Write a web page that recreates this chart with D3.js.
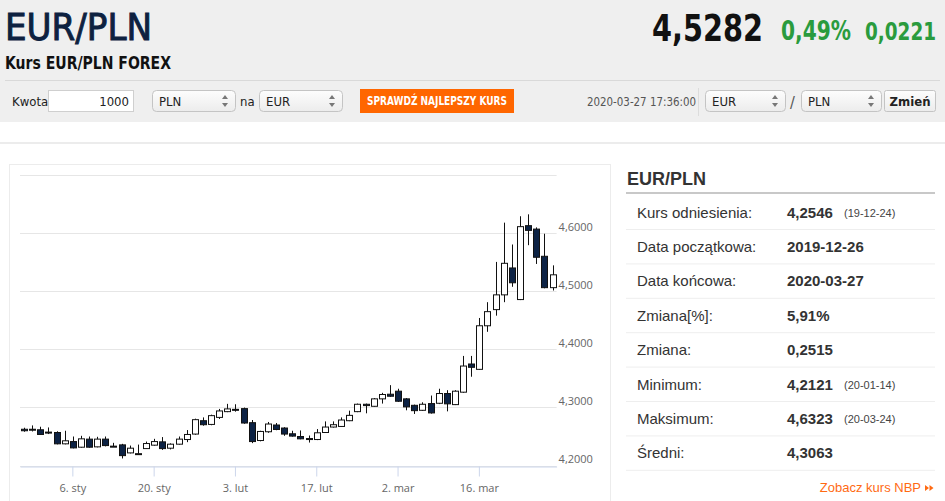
<!DOCTYPE html>
<html lang="pl">
<head>
<meta charset="utf-8">
<title>EUR/PLN</title>
<script src="https://d3js.org/d3.v7.min.js"></script>
<style>
  body { margin: 0; background: #fff; }
  svg { display: block; }
  .cond { font-family: "Liberation Sans Narrow", "DejaVu Sans Condensed", "Liberation Sans", sans-serif; }
  .sans { font-family: "Liberation Sans", Arial, sans-serif; }
  .axis text { font-family: "Open Sans", "DejaVu Sans", sans-serif; font-size: 11px; fill: #666; }
</style>
</head>
<body>
<script>
// trading days (ordinal x axis)
const dates = [
  "2019-12-26","2019-12-27","2019-12-30","2019-12-31","2020-01-02","2020-01-03",
  "2020-01-06","2020-01-07","2020-01-08","2020-01-09","2020-01-10",
  "2020-01-13","2020-01-14","2020-01-15","2020-01-16","2020-01-17",
  "2020-01-20","2020-01-21","2020-01-22","2020-01-23","2020-01-24",
  "2020-01-27","2020-01-28","2020-01-29","2020-01-30","2020-01-31",
  "2020-02-03","2020-02-04","2020-02-05","2020-02-06","2020-02-07",
  "2020-02-10","2020-02-11","2020-02-12","2020-02-13","2020-02-14",
  "2020-02-17","2020-02-18","2020-02-19","2020-02-20","2020-02-21",
  "2020-02-24","2020-02-25","2020-02-26","2020-02-27","2020-02-28",
  "2020-03-02","2020-03-03","2020-03-04","2020-03-05","2020-03-06",
  "2020-03-09","2020-03-10","2020-03-11","2020-03-12","2020-03-13",
  "2020-03-16","2020-03-17","2020-03-18","2020-03-19","2020-03-20",
  "2020-03-23","2020-03-24","2020-03-25","2020-03-26","2020-03-27"
];
const open = [
  4.2624,4.2615,4.2615,4.2575,4.2568,4.2373,4.2412,4.2315,4.2454,4.2321,4.2454,
  4.2333,4.2355,4.2217,4.2187,4.2291,4.2350,4.2407,4.2298,4.2367,4.2447,
  4.2541,4.2771,4.2707,4.2828,4.2927,4.2967,4.2979,4.2737,4.2430,4.2581,
  4.2697,4.2645,4.2546,4.2499,4.2464,4.2447,4.2568,4.2662,4.2672,4.2771,
  4.2927,4.3054,4.3019,4.3147,4.3227,4.3279,4.3147,4.3036,4.2950,4.3066,
  4.3071,4.3239,4.3048,4.3262,4.3747,4.3655,4.4405,4.4683,4.4937,4.5400,
  4.4856,4.6128,4.6069,4.5601,4.5061
];
const high = [
  4.2650,4.2690,4.2667,4.2655,4.2589,4.2598,4.2499,4.2511,4.2499,4.2494,4.2499,
  4.2390,4.2373,4.2343,4.2360,4.2412,4.2459,4.2489,4.2381,4.2499,4.2610,
  4.2806,4.2828,4.2875,4.2974,4.3061,4.3054,4.2997,4.2783,4.2598,4.2749,
  4.2731,4.2659,4.2598,4.2603,4.2516,4.2627,4.2759,4.2759,4.2828,4.2944,
  4.3066,4.3066,4.3161,4.3251,4.3383,4.3321,4.3161,4.3048,4.3088,4.3204,
  4.3321,4.3296,4.3296,4.3886,4.3886,4.4539,4.4811,4.5504,4.6180,4.5804,
  4.6290,4.6323,4.6098,4.5989,4.5445
];
const low = [
  4.2581,4.2586,4.2529,4.2541,4.2364,4.2364,4.2295,4.2307,4.2307,4.2312,4.2329,
  4.2321,4.2121,4.2208,4.2182,4.2286,4.2341,4.2269,4.2277,4.2359,4.2402,
  4.2529,4.2685,4.2693,4.2801,4.2918,4.2927,4.2719,4.2385,4.2416,4.2563,
  4.2607,4.2511,4.2497,4.2451,4.2395,4.2437,4.2560,4.2653,4.2664,4.2763,
  4.2918,4.2898,4.3014,4.3066,4.3182,4.3095,4.2950,4.2887,4.2939,4.2893,
  4.3057,4.2932,4.3040,4.3251,4.3528,4.3646,4.4301,4.4579,4.4811,4.5076,
  4.4847,4.5792,4.5469,4.5050,4.5012
];
const close = [
  4.2598,4.2624,4.2534,4.2558,4.2373,4.2425,4.2303,4.2459,4.2315,4.2454,4.2343,
  4.2325,4.2170,4.2298,4.2204,4.2378,4.2412,4.2291,4.2367,4.2454,4.2534,
  4.2789,4.2702,4.2858,4.2939,4.2974,4.2950,4.2731,4.2412,4.2586,4.2714,
  4.2620,4.2541,4.2506,4.2459,4.2447,4.2563,4.2662,4.2702,4.2783,4.2863,
  4.3054,4.3031,4.3147,4.3222,4.3192,4.3106,4.3009,4.2944,4.3054,4.2905,
  4.3239,4.3061,4.3279,4.3712,4.3690,4.4405,4.4648,4.4937,4.5480,4.5145,
  4.6111,4.6047,4.5584,4.5061,4.5282
];
const tickDates = ["2020-01-06","2020-01-20","2020-02-03","2020-02-17","2020-03-02","2020-03-16"];
const tickLabels = ["6. sty","20. sty","3. lut","17. lut","2. mar","16. mar"];
const yTicks = [4.2, 4.3, 4.4, 4.5, 4.6, 4.7];

const statLabels = ["Kurs odniesienia:","Data początkowa:","Data końcowa:","Zmiana[%]:","Zmiana:","Minimum:","Maksimum:","Średni:"];
const statValues = ["4,2546","2019-12-26","2020-03-27","5,91%","0,2515","4,2121","4,6323","4,3063"];
const statNotes  = ["(19-12-24)","","","","","(20-01-14)","(20-03-24)",""];

const W = 945, H = 501;
const svg = d3.select("body").append("svg").attr("width", W).attr("height", H);

const defs = svg.append("defs");
const grad = defs.append("linearGradient").attr("id", "sel").attr("x1", 0).attr("y1", 0).attr("x2", 0).attr("y2", 1);
grad.append("stop").attr("offset", "0%").attr("stop-color", "#fdfdfd");
grad.append("stop").attr("offset", "100%").attr("stop-color", "#ececec");

// ---- header ----
svg.append("rect").attr("x", 0).attr("y", 0).attr("width", W).attr("height", 122).attr("fill", "#efefef");
svg.append("text").attr("class", "cond").attr("x", 5).attr("y", 40)
  .attr("font-size", 37).attr("fill", "#0d2140").attr("stroke", "#0d2140").attr("stroke-width", 0.9)
  .attr("textLength", 147).attr("lengthAdjust", "spacingAndGlyphs").text("EUR/PLN");
svg.append("text").attr("class", "cond").attr("x", 5).attr("y", 69)
  .attr("font-size", 17).attr("font-weight", "bold").attr("fill", "#111")
  .attr("textLength", 166).attr("lengthAdjust", "spacingAndGlyphs").text("Kurs EUR/PLN FOREX");

svg.append("text").attr("class", "cond").attr("x", 652).attr("y", 41)
  .attr("font-size", 38).attr("font-weight", "bold").attr("fill", "#111")
  .attr("textLength", 111).attr("lengthAdjust", "spacingAndGlyphs").text("4,5282");
svg.append("text").attr("class", "cond").attr("x", 781).attr("y", 40)
  .attr("font-size", 26).attr("font-weight", "bold").attr("fill", "#2a9b3d")
  .attr("textLength", 70).attr("lengthAdjust", "spacingAndGlyphs").text("0,49%");
svg.append("text").attr("class", "cond").attr("x", 936).attr("y", 40).attr("text-anchor", "end")
  .attr("font-size", 25).attr("font-weight", "bold").attr("fill", "#2a9b3d")
  .attr("textLength", 71).attr("lengthAdjust", "spacingAndGlyphs").text("0,0221");

svg.append("line").attr("x1", 5).attr("x2", 940).attr("y1", 80.5).attr("y2", 80.5)
  .attr("stroke", "#d9d9d9");

// controls row
function condText(x, y, txt, size, opts) {
  const t = svg.append("text").attr("class", "cond").attr("x", x).attr("y", y)
    .attr("font-size", size).attr("fill", (opts && opts.fill) || "#222").text(txt);
  if (opts && opts.weight) t.attr("font-weight", opts.weight);
  if (opts && opts.anchor) t.attr("text-anchor", opts.anchor);
  if (opts && opts.len) t.attr("textLength", opts.len).attr("lengthAdjust", "spacingAndGlyphs");
  return t;
}
function selectBox(x, w, label) {
  svg.append("rect").attr("x", x + 0.5).attr("y", 90.5).attr("width", w).attr("height", 21)
    .attr("rx", 4).attr("fill", "url(#sel)").attr("stroke", "#c4c4c4");
  condText(x + 7, 106, label, 13);
  const ax = x + w - 10;
  svg.append("path").attr("d", `M${ax - 3},99 L${ax + 3},99 L${ax},95 Z M${ax - 3},103 L${ax + 3},103 L${ax},107 Z`)
    .attr("fill", "#777");
}
condText(12, 106, "Kwota", 13);
svg.append("rect").attr("x", 48.5).attr("y", 90.5).attr("width", 85).attr("height", 21)
  .attr("fill", "#fff").attr("stroke", "#cfcfcf");
condText(129, 106, "1000", 13, { anchor: "end" });
selectBox(152, 83, "PLN");
condText(240, 106, "na", 13);
selectBox(259, 83, "EUR");
svg.append("rect").attr("x", 360).attr("y", 89).attr("width", 154).attr("height", 24).attr("fill", "#ff6600");
condText(437, 105, "SPRAWDŹ NAJLEPSZY KURS", 12, { fill: "#fff", weight: "bold", anchor: "middle", len: 140 });
condText(587, 106, "2020-03-27 17:36:00", 12, { fill: "#555", len: 109 });
svg.append("line").attr("x1", 698.5).attr("x2", 698.5).attr("y1", 88).attr("y2", 116).attr("stroke", "#dcdcdc");
selectBox(705, 80, "EUR");
condText(790, 108, "/", 16, { fill: "#555" });
selectBox(801, 80, "PLN");
svg.append("rect").attr("x", 884.5).attr("y", 90.5).attr("width", 51).attr("height", 21)
  .attr("rx", 2).attr("fill", "url(#sel)").attr("stroke", "#c4c4c4");
condText(910, 106, "Zmień", 13, { weight: "bold", anchor: "middle" });

svg.append("rect").attr("x", 0).attr("y", 142).attr("width", W).attr("height", 2).attr("fill", "#ececec");

// ---- chart ----
svg.append("rect").attr("x", 9.5).attr("y", 164.5).attr("width", 601).attr("height", 345)
  .attr("fill", "#fff").attr("stroke", "#ececec");

const plotLeft = 20, plotRight = 556.6, plotTop = 175, plotBottom = 465.5;

const x = d3.scaleBand().domain(dates).range([plotLeft, plotRight]).paddingInner(0.35).paddingOuter(0.175);
const y = d3.scaleLinear().domain([4.2, 4.7]).range([plotBottom, plotTop]);
const cx = d => x(d) + x.bandwidth() / 2;

// grid
svg.append("g").selectAll("line").data(yTicks).join("line")
  .attr("x1", plotLeft).attr("x2", plotRight)
  .attr("y1", d => Math.round(y(d)) + 0.5).attr("y2", d => Math.round(y(d)) + 0.5)
  .attr("stroke", "#e6e6e6");

// y labels (right side)
const yAxis = d3.axisRight(y).tickValues(yTicks.slice(0, 5))
  .tickFormat(d => d3.format(".4f")(d).replace(".", ",")).tickSize(0).tickPadding(0);
const gy = svg.append("g").attr("class", "axis").attr("transform", `translate(${plotRight + 2},0)`).call(yAxis);
gy.select(".domain").remove();
gy.selectAll("text").attr("dy", "-3px").attr("dominant-baseline", "auto").attr("y", 0);

// x axis
const xAxis = d3.axisBottom(x).tickValues(tickDates)
  .tickFormat(d => tickLabels[tickDates.indexOf(d)]).tickSizeInner(10).tickSizeOuter(0).tickPadding(4);
const gx = svg.append("g").attr("class", "axis").attr("transform", `translate(0,${Math.round(plotBottom) + 0.5})`).call(xAxis);
gx.select(".domain").attr("stroke", "#ccd6eb");
gx.selectAll(".tick line").attr("stroke", "#ccd6eb");
gx.selectAll("text").attr("dy", "1em");

// candles
const idx = d3.range(dates.length);
const candles = svg.append("g");
candles.selectAll("line").data(idx).join("line")
  .attr("x1", i => Math.round(cx(dates[i])) + 0.5).attr("x2", i => Math.round(cx(dates[i])) + 0.5)
  .attr("y1", i => y(high[i])).attr("y2", i => y(low[i]))
  .attr("stroke", "#111").attr("stroke-width", 1);
candles.selectAll("rect").data(idx).join("rect")
  .attr("x", i => Math.round(cx(dates[i]) - 3) + 0.5)
  .attr("width", 6)
  .attr("y", i => y(Math.max(open[i], close[i])))
  .attr("height", i => Math.max(1, Math.abs(y(open[i]) - y(close[i]))))
  .attr("fill", i => close[i] >= open[i] ? "#fff" : "#0c2244")
  .attr("stroke", "#111").attr("stroke-width", 1);

// ---- stats panel ----
const px = 626, pw = 309;
svg.append("text").attr("class", "sans").attr("x", 627).attr("y", 185)
  .attr("font-size", 18).attr("font-weight", "bold").attr("fill", "#333").text("EUR/PLN");
svg.append("rect").attr("x", px).attr("y", 192).attr("width", pw).attr("height", 2).attr("fill", "#c8c8c8");

const rowY = d3.scalePoint().domain(d3.range(statLabels.length)).range([212, 452.8]);
const rows = svg.append("g").selectAll("g").data(d3.range(statLabels.length)).join("g")
  .attr("transform", i => `translate(0,${rowY(i)})`);
rows.append("text").attr("class", "sans").attr("x", 637).attr("y", 5.5)
  .attr("font-size", 15).attr("fill", "#333").text(i => statLabels[i]);
rows.append("text").attr("class", "sans").attr("x", 787).attr("y", 5.5)
  .attr("font-size", 15).attr("font-weight", "bold").attr("fill", "#333").text(i => statValues[i]);
rows.append("text").attr("class", "sans").attr("x", 844).attr("y", 5)
  .attr("font-size", 11).attr("fill", "#444").text(i => statNotes[i]);
rows.append("line").attr("x1", px).attr("x2", px + pw).attr("y1", 17.5).attr("y2", 17.5)
  .attr("stroke", "#eeeeee");

svg.append("text").attr("class", "sans").attr("x", 921).attr("y", 492)
  .attr("text-anchor", "end").attr("font-size", 13).attr("fill", "#ff6a13").text("Zobacz kurs NBP");
svg.append("path").attr("d", "M925,485 L929,488 L925,491 Z M929.5,485 L933.5,488 L929.5,491 Z").attr("fill", "#ff6a13");
</script>
</body>
</html>
